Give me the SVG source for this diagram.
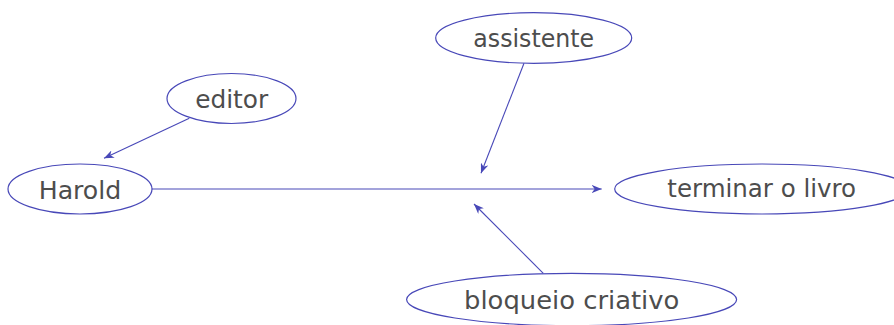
<svg xmlns="http://www.w3.org/2000/svg" width="894" height="325" viewBox="0 0 894 325">
<style>
.n{fill:#fff;stroke:#4848b8;stroke-width:1.2}
.t{font-family:"DejaVu Sans",sans-serif;font-size:24px;fill:#4d4d4d;text-anchor:middle}
.c{stroke:#4848b8;stroke-width:1.1;fill:none;marker-end:url(#ah)}
</style>
<defs>
<marker id="ah" viewBox="0 0 10 8" refX="10" refY="4" markerWidth="10" markerHeight="8" markerUnits="userSpaceOnUse" orient="auto">
<path d="M0,0 L10,4 L0,8 L3,4 Z" fill="#4848b8"/>
</marker>
</defs>
<rect width="894" height="325" fill="#fff"/>
<g id="connectors">
<line class="c" x1="189.3" y1="118.3" x2="104" y2="158.3"/>
<line class="c" x1="152" y1="189" x2="601.7" y2="189"/>
<line class="c" x1="524" y1="63.3" x2="481" y2="173.3"/>
<line class="c" x1="543.3" y1="273.3" x2="474" y2="204"/>
</g>
<g id="harold">
<ellipse class="n" cx="80" cy="189" rx="72" ry="25"/>
<text class="t" x="80" y="198.5" textLength="82.6" lengthAdjust="spacingAndGlyphs">Harold</text>
</g>
<g id="editor">
<ellipse class="n" cx="231.5" cy="98.5" rx="64.5" ry="25"/>
<text class="t" x="231.7" y="108.3" textLength="73" lengthAdjust="spacingAndGlyphs">editor</text>
</g>
<g id="assistente">
<ellipse class="n" cx="533.7" cy="38" rx="98" ry="25.3"/>
<text class="t" x="533.7" y="47.3" textLength="120.7" lengthAdjust="spacingAndGlyphs">assistente</text>
</g>
<g id="terminar">
<ellipse class="n" cx="761.7" cy="189" rx="147" ry="25"/>
<text class="t" x="761.7" y="197" textLength="188.7" lengthAdjust="spacingAndGlyphs">terminar o livro</text>
</g>
<g id="bloqueio">
<ellipse class="n" cx="571.6" cy="299.5" rx="165" ry="26.2"/>
<text class="t" x="571.7" y="309" textLength="215.3" lengthAdjust="spacingAndGlyphs">bloqueio criativo</text>
</g>
</svg>
